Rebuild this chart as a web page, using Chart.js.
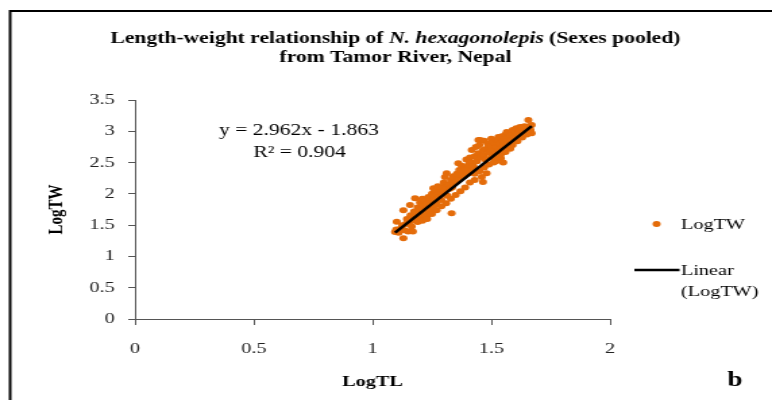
<!DOCTYPE html>
<html>
<head>
<meta charset="utf-8">
<script src="https://cdn.jsdelivr.net/npm/chart.js@4.4.1/dist/chart.umd.min.js"></script>
<style>
  html, body { margin: 0; padding: 0; background: #fff; }
  #wrap { width: 772px; height: 400px; position: relative; overflow: hidden; }
  #c { display: block; }
</style>
</head>
<body>
<div id="wrap"><canvas id="c" width="572" height="400" style="width:772px;height:400px"></canvas></div>
<script>
// Log total length (LogTL) of each fish
const logTL = [
  1.095, 1.100, 1.102, 1.110, 1.120, 1.125, 1.130, 1.130, 1.135, 1.140,
  1.145, 1.150, 1.155, 1.158, 1.160, 1.165, 1.170, 1.170, 1.175, 1.179,
  1.180, 1.185, 1.190, 1.195, 1.200, 1.200, 1.205, 1.210, 1.210, 1.215,
  1.220, 1.220, 1.225, 1.230, 1.230, 1.235, 1.240, 1.240, 1.245, 1.250,
  1.250, 1.255, 1.256, 1.260, 1.265, 1.270, 1.270, 1.275, 1.280, 1.285,
  1.290, 1.290, 1.295, 1.300, 1.300, 1.305, 1.310, 1.312, 1.315, 1.320,
  1.325, 1.330, 1.333, 1.335, 1.340, 1.345, 1.350, 1.355, 1.361, 1.360,
  1.365, 1.370, 1.375, 1.380, 1.385, 1.390, 1.395, 1.400, 1.400, 1.405,
  1.410, 1.415, 1.418, 1.420, 1.425, 1.430, 1.430, 1.435, 1.440, 1.445,
  1.446, 1.450, 1.453, 1.455, 1.460, 1.465, 1.465, 1.470, 1.470, 1.475,
  1.480, 1.485, 1.490, 1.495, 1.500, 1.500, 1.505, 1.510, 1.515, 1.520,
  1.525, 1.530, 1.530, 1.535, 1.540, 1.545, 1.550, 1.555, 1.560, 1.565,
  1.565, 1.570, 1.575, 1.580, 1.585, 1.590, 1.595, 1.600, 1.605, 1.610,
  1.615, 1.621, 1.625, 1.630, 1.635, 1.640, 1.645, 1.656, 1.660, 1.665,
  1.670, 1.670, 1.540, 1.550, 1.520, 1.150, 1.185, 1.215, 1.240, 1.265,
  1.190, 1.210, 1.230, 1.250, 1.270, 1.290, 1.310, 1.330, 1.350, 1.370,
  1.390, 1.410, 1.430, 1.450, 1.470, 1.480, 1.490, 1.510, 1.520, 1.540,
  1.560, 1.580, 1.590, 1.610, 1.630, 1.650
];
// Log total weight (LogTW) of each fish
const logTW = [
  1.39, 1.43, 1.555, 1.38, 1.45, 1.50, 1.29, 1.74, 1.42, 1.52,
  1.60, 1.40, 1.55, 1.82, 1.66, 1.48, 1.40, 1.63, 1.72, 1.93,
  1.57, 1.68, 1.78, 1.62, 1.70, 1.86, 1.75, 1.62, 1.92, 1.80,
  1.70, 1.88, 1.76, 1.84, 1.66, 1.95, 1.80, 1.73, 1.88, 2.00,
  1.85, 1.78, 2.09, 1.92, 2.05, 1.87, 1.98, 2.12, 1.95, 2.03,
  1.90, 2.10, 2.00, 2.18, 2.05, 2.27, 2.10, 2.33, 1.97, 2.15,
  2.08, 2.22, 1.69, 2.10, 2.28, 2.18, 2.20, 2.32, 2.49, 2.25,
  2.38, 2.30, 2.45, 2.35, 2.28, 2.42, 2.55, 2.40, 2.32, 2.47,
  2.58, 2.36, 2.70, 2.50, 2.44, 2.22, 2.60, 2.75, 2.52, 2.65,
  2.86, 2.78, 2.86, 2.58, 2.27, 2.19, 2.70, 2.85, 2.62, 2.55,
  2.72, 2.80, 2.66, 2.76, 2.58, 2.88, 2.70, 2.82, 2.62, 2.75,
  2.86, 2.91, 2.68, 2.80, 2.72, 2.92, 2.84, 2.76, 2.95, 2.99,
  2.88, 2.80, 2.92, 2.85, 2.98, 3.02, 2.90, 3.00, 3.05, 2.95,
  3.04, 3.07, 3.02, 3.06, 2.98, 3.08, 3.05, 3.18, 3.08, 3.02,
  2.97, 3.10, 2.57, 2.50, 2.52, 1.57, 1.60, 1.67, 1.76, 1.83,
  1.55, 1.57, 1.60, 1.68, 1.74, 1.80, 1.85, 1.92, 1.98, 2.04,
  2.10, 2.18, 2.32, 2.36, 2.42, 2.33, 2.47, 2.50, 2.58, 2.63,
  2.67, 2.72, 2.78, 2.84, 2.90, 2.95
];
// Fitted regression: LogTW = a * LogTL + b
const slope = 2.962;
const intercept = -1.863;
const rSquared = 0.904;

const xTickLabels = ['0', '0.5', '1', '1.5', '2'];
const yTickLabels = ['0', '0.5', '1', '1.5', '2', '2.5', '3', '3.5'];

const points = logTL.map((x, i) => ({ x: x, y: logTW[i] }));
const xMin = Math.min(...logTL), xMax = Math.max(...logTL);
const trend = [xMin, xMax].map(x => ({ x: x, y: slope * x + intercept }));

const ORANGE = '#E46C0A';
const SERIF = '"Liberation Serif", "Times New Roman", serif';
const DOT_R = 3;

// Draws the frame, title, equation, legend and panel letter
const decorations = {
  id: 'decorations',
  afterDraw(chart) {
    const ctx = chart.ctx;
    ctx.save();
    // frame
    ctx.strokeStyle = '#000';
    ctx.lineWidth = 2;
    ctx.strokeRect(7.5, 11, 700, 420);

    // title, line 1 with italic species name
    ctx.fillStyle = '#000';
    ctx.textBaseline = 'middle';
    const tSize = 16;
    const segs = [
      { t: 'Length-weight relationship of ', f: 'bold ' + tSize + 'px ' + SERIF },
      { t: 'N. hexagonolepis', f: 'italic bold ' + tSize + 'px ' + SERIF },
      { t: ' (Sexes pooled)', f: 'bold ' + tSize + 'px ' + SERIF }
    ];
    let total = 0;
    segs.forEach(s => { ctx.font = s.f; s.w = ctx.measureText(s.t).width; total += s.w; });
    let x = 293 - total / 2;
    ctx.textAlign = 'left';
    segs.forEach(s => { ctx.font = s.f; ctx.fillText(s.t, x, 39); x += s.w; });
    ctx.textAlign = 'center';
    ctx.font = 'bold ' + tSize + 'px ' + SERIF;
    ctx.fillText('from Tamor River, Nepal', 293, 58);

    // regression equation
    ctx.font = '16px ' + SERIF;
    ctx.fillText('y = ' + slope.toFixed(3) + 'x - ' + Math.abs(intercept).toFixed(3), 221.5, 131);
    ctx.fillText('R\u00B2 = ' + rSquared.toFixed(3), 222, 153);

    // legend
    ctx.textAlign = 'left';
    ctx.font = '15px ' + SERIF;
    ctx.beginPath();
    ctx.arc(486.5, 224, DOT_R, 0, Math.PI * 2);
    ctx.fillStyle = ORANGE;
    ctx.fill();
    ctx.fillStyle = '#000';
    ctx.fillText('LogTW', 504.5, 225);
    ctx.beginPath();
    ctx.moveTo(470, 270);
    ctx.lineTo(503.5, 270);
    ctx.lineWidth = 2.5;
    ctx.strokeStyle = '#000';
    ctx.stroke();
    ctx.fillText('Linear', 504.5, 271);
    ctx.fillText('(LogTW)', 504.5, 292);

    // panel letter
    ctx.textAlign = 'center';
    ctx.font = 'bold 20px ' + SERIF;
    ctx.fillText('b', 544.5, 381);
    ctx.restore();
  }
};

new Chart(document.getElementById('c'), {
  type: 'scatter',
  data: {
    datasets: [
      {
        label: 'LogTW',
        data: points,
        backgroundColor: ORANGE,
        borderWidth: 0,
        pointRadius: DOT_R,
        order: 2
      },
      {
        type: 'line',
        label: 'Linear (LogTW)',
        data: trend,
        borderColor: '#000',
        borderWidth: 2.5,
        pointRadius: 0,
        fill: false,
        order: 1
      }
    ]
  },
  options: {
    responsive: false,
    animation: false,
    devicePixelRatio: 1,
    layout: { padding: { left: 0, top: 100, right: 120, bottom: 0 } },
    plugins: { legend: { display: false }, tooltip: { enabled: false }, title: { display: false } },
    scales: {
      x: {
        type: 'linear',
        min: 0, max: 2,
        afterFit(scale) { scale.height = 81; },
        border: { display: true, color: '#555', width: 1 },
        grid: { drawOnChartArea: false, drawTicks: true, tickLength: 6, color: '#555' },
        ticks: {
          stepSize: 0.5,
          padding: 15,
          color: '#222',
          font: { family: SERIF, size: 15 },
          callback: (v) => xTickLabels[Math.round(v / 0.5)]
        },
        title: {
          display: true,
          text: 'LogTL',
          color: '#000',
          font: { family: SERIF, size: 15, weight: 'bold' },
          padding: { top: 0, bottom: 9 }
        }
      },
      y: {
        type: 'linear',
        min: 0, max: 3.5,
        afterFit(scale) { scale.width = 100; },
        border: { display: true, color: '#555', width: 1 },
        grid: { drawOnChartArea: false, drawTicks: true, tickLength: 5, color: '#555' },
        ticks: {
          stepSize: 0.5,
          padding: 10,
          color: '#222',
          font: { family: SERIF, size: 15 },
          callback: (v) => yTickLabels[Math.round(v / 0.5)]
        },
        title: {
          display: true,
          text: 'LogTW',
          color: '#000',
          font: { family: SERIF, size: 15, weight: 'bold' },
          padding: { top: 33, bottom: 0 }
        }
      }
    }
  },
  plugins: [decorations]
});
</script>
</body>
</html>
